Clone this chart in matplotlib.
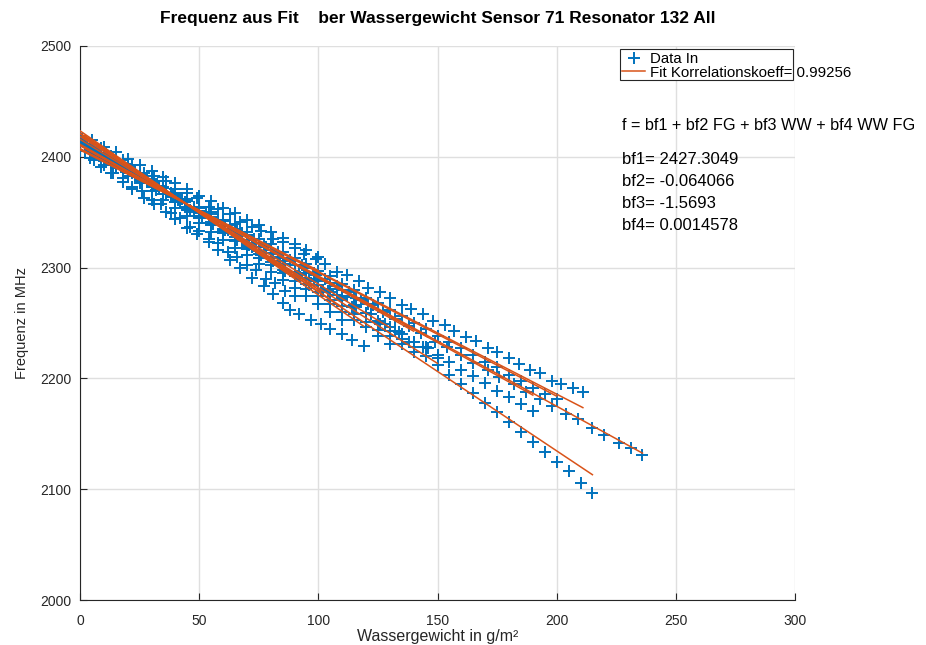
import matplotlib
matplotlib.use("Agg")
import matplotlib.pyplot as plt
from matplotlib.patches import Rectangle
from matplotlib.lines import Line2D
import numpy as np

plt.rcParams['font.family'] = ['Liberation Sans', 'DejaVu Sans']

# ---- fit coefficients (shown on chart) ----
bf1 = 2427.3049
bf2 = -0.064066
bf3 = -1.5693
bf4 = 0.0014578
korr = 0.99256

# ---- measured series (Wassergewicht WW, Frequenz f), each with its FG value ----
A_fg = 318
A_ww = [0,4,9,13,18,22,27,31,36,40,45,49,54,58,63,67,72,76,81,85,90,94,99,103,108,112,117,121,126,130,135,139,144,148,153,157,162,166,171,175,180,184,189,193,198,202,207,211]
A_f = [2417,2412,2408,2401,2397,2393,2385,2383,2378,2371,2367,2363,2355,2353,2348,2341,2337,2333,2326,2323,2318,2312,2308,2303,2296,2293,2288,2282,2278,2273,2266,2263,2258,2252,2248,2243,2237,2234,2227,2224,2218,2213,2208,2205,2198,2195,2191,2188]

B_fg = 310
B_ww = [0,5,10,15,20,25,30,35,40,45,50,55,60,65,70,75,80,85,90,95,100,105,110,115,120,125,130,135,140,145,150,155,160,165,170,175,180,185,190,195,200]
B_f = [2414,2408,2403,2396,2391,2384,2380,2373,2367,2362,2355,2350,2343,2339,2332,2326,2321,2314,2309,2303,2297,2292,2285,2280,2273,2268,2262,2256,2250,2245,2238,2233,2227,2221,2215,2210,2203,2198,2191,2186,2181]

C_fg = 270
C_ww = [0,6,11,17,22,28,33,39,44,50,55,61,66,72,77,83,88,94,99,105,110,116,121,127,132,138,143,149,154,160,165,171,176,182,187,193,198,204,209,215,220,226,231,236]
C_f = [2411,2404,2398,2391,2385,2378,2371,2365,2359,2351,2346,2338,2333,2325,2320,2312,2306,2300,2293,2286,2280,2273,2267,2260,2254,2247,2241,2233,2228,2221,2214,2208,2201,2195,2188,2181,2175,2168,2163,2155,2149,2142,2137,2131]

D_fg = 262
D_ww = [0,5,10,15,20,25,30,35,40,45,50,55,60,65,70,75,80,85,90,95,100,105,110,115,120,125,130,135,140,145,150,155,160,165,170,175,180,185,190]
D_f = [2410,2404,2397,2391,2385,2378,2373,2366,2359,2354,2347,2341,2334,2328,2322,2315,2310,2303,2296,2291,2284,2278,2271,2265,2259,2252,2246,2240,2233,2228,2221,2215,2208,2202,2196,2189,2183,2177,2171]

E_fg = 250
E_ww = [0,5,10,15,20,25,30,35,40,45,50,55,60,65,70,75,80,85,90,95,100,105,110,115,120,125,130,135,140]
E_f = [2413,2406,2400,2393,2386,2379,2373,2366,2359,2352,2346,2339,2332,2325,2319,2312,2305,2298,2292,2285,2278,2271,2265,2258,2251,2244,2238,2231,2224]

F_fg = 180
F_ww = [0,5,10,15,20,25,30,35,40,45,50,55,60,65,70,75,80,85,90,95,100,105,110,115,120,125,130]
F_f = [2416,2409,2402,2395,2388,2380,2374,2366,2359,2352,2345,2338,2331,2324,2317,2309,2302,2295,2288,2281,2274,2267,2260,2253,2246,2238,2231]

G_fg = 60
G_ww = [0,4,9,13,18,22,27,31,36,40,45,49,54,58,63,67,72,77,81,85,88,92,97,101,105,110,114,119]
G_f = [2405,2399,2391,2385,2377,2371,2363,2357,2350,2344,2336,2330,2323,2316,2307,2300,2291,2283,2276,2268,2262,2258,2253,2249,2245,2240,2235,2229]

H_fg = 93
H_ww = [0,5,10,15,20,25,30,35,40,45,50,55,60,65,70,75,80,85,90,95,100,105,110,115,120,125,130,135,140,145,150,155,160,165,170,175,180,185,190,195,200,205,210,215]
H_f = [2410,2405,2400,2394,2389,2383,2378,2372,2366,2360,2354,2348,2342,2335,2329,2322,2316,2309,2302,2295,2288,2281,2274,2266,2259,2251,2243,2236,2228,2220,2212,2203,2195,2187,2178,2170,2161,2152,2143,2134,2125,2116,2106,2097]

I_fg = 330
I_ww = [0,5,10,15,20,25,30,35,40,45,50,55,60,65,70,75,80,85,90,95,100]
I_f = [2419,2415,2409,2404,2398,2393,2387,2382,2376,2371,2365,2360,2354,2349,2343,2338,2332,2327,2321,2316,2310]

J_fg = 100
J_ww = [0,5,10,15,20,25,30,35,40,45,50,55,60,65,70,75,80,85,90,95,100,105,110]
J_f = [2412,2405,2398,2390,2383,2376,2369,2361,2354,2347,2340,2332,2325,2318,2311,2303,2296,2289,2282,2274,2267,2260,2253]

K_fg = 140
K_ww = [0,6,12,18,24,30,36,42,48,54,60,66,72,78,84,90,96,102,108,114,120,126,132,138,144,150]
K_f = [2413,2407,2397,2392,2382,2376,2366,2360,2350,2345,2335,2329,2319,2313,2306,2296,2290,2280,2275,2264,2259,2249,2243,2233,2228,2218]

L_fg = 262
L_ww = [2,8,14,20,26,32,38,44,50,56,62,68,74,80,86,92,98,104,110,116,122,128,134,140,146]
L_f = [2410,2401,2395,2386,2380,2370,2364,2355,2349,2340,2334,2325,2319,2309,2303,2294,2288,2279,2273,2264,2258,2249,2242,2233,2227]

M_fg = 120
M_ww = [1,6,11,16,21,26,31,36,41,46,51,56,61,66,71,76,81,86,91,96,101]
M_f = [2416,2408,2403,2394,2389,2380,2375,2366,2361,2352,2347,2339,2334,2325,2320,2311,2306,2297,2292,2284,2279]

N_fg = 262
N_ww = [3,8,13,18,23,28,33,38,43,48,53,58,63,68,73,78,83,88,93,98,103,108,113,118,123]
N_f = [2410,2403,2398,2391,2386,2379,2374,2367,2362,2355,2350,2343,2338,2331,2326,2319,2314,2307,2302,2295,2290,2283,2278,2271,2266]

O_fg = 80
O_ww = [2,6,10,14,18,22,26,30,34,38,42,46,50,54,58,62,66,70,74,78,82,86,90]
O_f = [2405,2397,2393,2385,2381,2373,2369,2361,2357,2349,2345,2337,2333,2326,2322,2314,2310,2302,2298,2290,2286,2279,2274]

series = [
    (A_fg, A_ww, A_f), (B_fg, B_ww, B_f), (C_fg, C_ww, C_f), (D_fg, D_ww, D_f),
    (E_fg, E_ww, E_f), (F_fg, F_ww, F_f), (G_fg, G_ww, G_f), (H_fg, H_ww, H_f),
    (I_fg, I_ww, I_f), (J_fg, J_ww, J_f), (K_fg, K_ww, K_f), (L_fg, L_ww, L_f),
    (M_fg, M_ww, M_f), (N_fg, N_ww, N_f), (O_fg, O_ww, O_f),
]

x_ticks = [0, 50, 100, 150, 200, 250, 300]
y_ticks = [2000, 2100, 2200, 2300, 2400, 2500]

BLUE = '#0072BD'
ORANGE = '#D95319'
DARK = '#262626'

W, H = 926, 645
fig = plt.figure(figsize=(W / 100, H / 100), dpi=100)
ax = fig.add_axes([80 / W, 1 - 600 / H, (795 - 80) / W, (600 - 46) / H])

# data points
for fg, ww, f in series:
    ax.plot(ww, f, linestyle='none', marker='+', color=BLUE, markersize=9, markeredgewidth=1.4, zorder=3)

# fit lines: f = bf1 + bf2 FG + bf3 WW + bf4 WW FG
for fg, ww, f in series:
    w = np.array([min(ww), max(ww)], dtype=float)
    ax.plot(w, bf1 + bf2 * fg + bf3 * w + bf4 * w * fg, color=ORANGE, linewidth=1.1, zorder=4)

ax.set_xlim(0, 300)
ax.set_ylim(2000, 2500)
ax.set_xticks(x_ticks)
ax.set_yticks(y_ticks)
ax.grid(True, color='#dfdfdf', linewidth=1.0)
ax.set_axisbelow(True)
for s in ['top', 'right']:
    ax.spines[s].set_visible(False)
for s in ['left', 'bottom']:
    ax.spines[s].set_color(DARK)
    ax.spines[s].set_linewidth(0.8)
ax.tick_params(direction='in', length=5, width=0.8, colors=DARK, labelsize=10, labelcolor=DARK)
ax.tick_params(axis='x', pad=10)
ax.tick_params(axis='y', pad=6)

ax.set_xlabel('Wassergewicht in g/m²', fontsize=11.5, color=DARK, labelpad=1)
ax.set_ylabel('Frequenz in MHz', fontsize=10.5, color=DARK, labelpad=8)
fig.text(437.5 / W, 1 - 18 / H, 'Frequenz aus Fit    ber Wassergewicht Sensor 71 Resonator 132 All',
         ha='center', va='center', fontsize=12.5, fontweight='bold', color='black')

# legend (box drawn separately, text overflows like original)
fig.patches.append(Rectangle((620 / W, 1 - 80 / H), 173 / W, 31 / H, transform=fig.transFigure,
                             fill=True, facecolor='white', edgecolor=DARK, linewidth=0.8, zorder=5))
fig.lines.append(Line2D([634 / W], [1 - 58 / H], marker='+', color=BLUE, markersize=9, markeredgewidth=1.4,
                        transform=fig.transFigure, zorder=6))
fig.lines.append(Line2D([622 / W, 645 / W], [1 - 71 / H, 1 - 71 / H], color=ORANGE, linewidth=1.1,
                        transform=fig.transFigure, zorder=6))
fig.text(650 / W, 1 - 59 / H, 'Data In', ha='left', va='center', fontsize=10.8, zorder=7)
fig.text(650 / W, 1 - 73 / H, 'Fit Korrelationskoeff= ' + str(korr), ha='left', va='center', fontsize=10.8, zorder=7)

# equation and coefficients
fig.text(622 / W, 1 - 126 / H, 'f = bf1 + bf2 FG + bf3 WW + bf4 WW FG', ha='left', va='center', fontsize=11.7)
fig.text(622 / W, 1 - 159 / H, 'bf1= ' + f'{bf1:.4f}', ha='left', va='center', fontsize=12)
fig.text(622 / W, 1 - 181 / H, 'bf2= ' + str(bf2), ha='left', va='center', fontsize=12)
fig.text(622 / W, 1 - 204 / H, 'bf3= ' + str(bf3), ha='left', va='center', fontsize=12)
fig.text(622 / W, 1 - 226 / H, 'bf4= ' + str(bf4), ha='left', va='center', fontsize=12)

fig.savefig('out.png', dpi=100, facecolor='white')
